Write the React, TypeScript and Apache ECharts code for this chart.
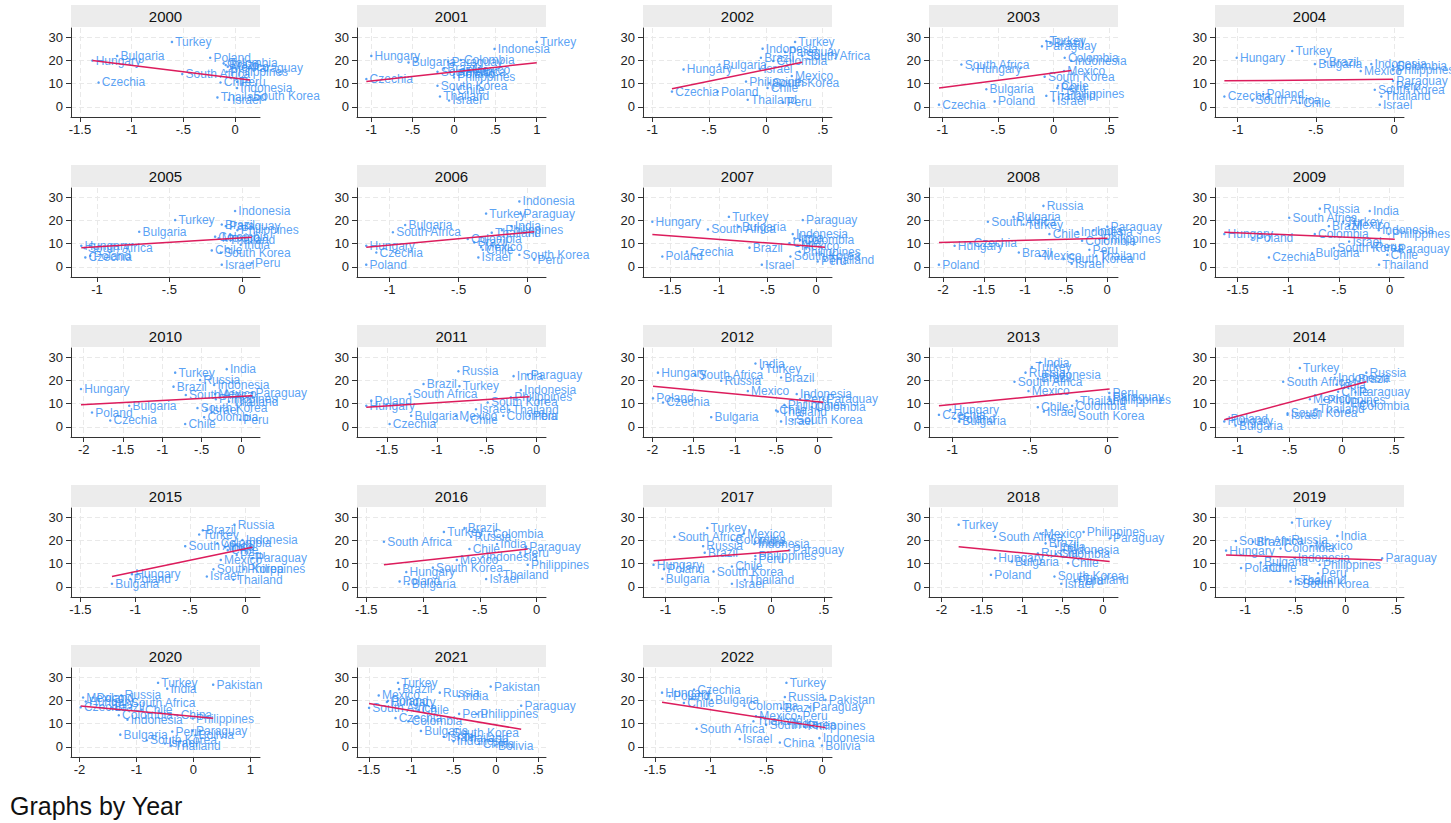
import React, { useEffect, useRef } from "react";
import * as echarts from "echarts";

type Row = [string, number, number];

const years = [2000, 2001, 2002, 2003, 2004, 2005, 2006, 2007, 2008, 2009, 2010, 2011, 2012, 2013, 2014, 2015, 2016, 2017, 2018, 2019, 2020, 2021, 2022];

const d2000: Row[] = [["Hungary",-1.38,19.9],["Bulgaria",-1.14,21.9],["Czechia",-1.32,10.5],["Turkey",-0.61,27.9],["South Africa",-0.51,14.1],["Poland",-0.24,21.1],["Colombia",-0.11,18.7],["Brazil",-0.09,18.0],["Mexico",-0.07,17.3],["Paraguay",0.13,16.5],["Philippines",-0.08,15.1],["Chile",-0.14,10.5],["Peru",0.02,10.8],["Indonesia",0.02,8.1],["Thailand",-0.17,4.1],["Israel",-0.06,3.1],["South Korea",0.145,4.5]];
const d2001: Row[] = [["Hungary",-1.0,21.9],["Czechia",-1.06,12.0],["Bulgaria",-0.55,19.1],["Paraguay",-0.07,19.4],["Colombia",0.08,20.1],["South Africa",-0.2,15.1],["Brazil",-0.12,16.5],["Mexico",0.18,16.0],["Peru",0.1,15.0],["Poland",0.0,14.0],["Philippines",0.0,12.7],["Indonesia",0.49,24.9],["Turkey",1.0,27.9],["South Korea",-0.2,9.1],["Chile",0.0,7.4],["Thailand",-0.17,4.5],["Israel",-0.06,2.8]];
const d2002: Row[] = [["Hungary",-0.725,16.1],["Czechia",-0.827,6.6],["Poland",-0.424,6.6],["Bulgaria",-0.409,18.2],["Israel",-0.053,16.3],["Brazil",-0.044,21.1],["Indonesia",-0.029,25.0],["Turkey",0.257,27.9],["Paraguay",0.17,23.6],["South Africa",0.32,21.8],["Colombia",0.064,19.7],["Mexico",0.228,13.3],["Philippines",-0.175,10.9],["South Korea",0.03,10.2],["Chile",0.015,8.1],["Thailand",-0.16,3.1],["Peru",0.152,2.0]];
const d2003: Row[] = [["Czechia",-1.03,1.0],["South Africa",-0.829,18.2],["Hungary",-0.725,16.1],["Bulgaria",-0.605,7.6],["Poland",-0.53,2.4],["Turkey",-0.066,28.3],["Brazil",-0.03,27.4],["Paraguay",-0.105,26.0],["Colombia",0.099,21.1],["Indonesia",0.159,19.8],["Mexico",0.093,15.4],["South Korea",-0.081,13.0],["Chile",0.039,9.1],["Peru",0.033,8.1],["Thailand",-0.066,4.8],["Philippines",0.084,5.5],["Israel",0.0,2.7]];
const d2004: Row[] = [["Hungary",-1.006,21.1],["Czechia",-1.085,4.5],["Turkey",-0.651,24.0],["Brazil",-0.438,19.4],["Bulgaria",-0.506,18.4],["Poland",-0.836,5.5],["South Africa",-0.906,2.8],["Chile",-0.602,1.7],["Indonesia",-0.145,18.4],["Mexico",-0.213,15.4],["Colombia",-0.006,17.5],["Philippines",-0.006,15.8],["Paraguay",-0.006,11.2],["Peru",-0.01,8.8],["South Korea",-0.123,7.4],["Thailand",-0.081,4.5],["Israel",-0.091,1.0]];
const d2005: Row[] = [["Hungary",-1.108,9.1],["South Africa",-1.085,8.1],["Poland",-1.046,4.8],["Czechia",-1.08,4.1],["Bulgaria",-0.708,15.1],["Turkey",-0.46,20.1],["Indonesia",-0.046,24.0],["Brazil",-0.138,18.2],["Paraguay",-0.11,17.5],["Philippines",-0.03,15.8],["Colombia",-0.184,13.0],["Mexico",-0.16,12.3],["Thailand",-0.11,11.6],["India",-0.007,9.5],["Chile",-0.207,7.1],["South Korea",-0.145,6.2],["Israel",-0.138,1.0],["Peru",0.069,1.7]];
const d2006: Row[] = [["Hungary",-1.169,9.1],["Czechia",-1.096,6.2],["Poland",-1.169,1.0],["Bulgaria",-0.887,18.0],["South Africa",-0.976,14.9],["Turkey",-0.301,22.9],["Indonesia",-0.06,28.1],["Paraguay",-0.053,22.9],["India",-0.116,17.5],["Philippines",-0.186,15.8],["Thailand",-0.26,14.7],["Colombia",-0.434,12.0],["Brazil",-0.386,10.5],["Mexico",-0.337,8.5],["Chile",-0.325,7.4],["Israel",-0.357,4.1],["South Korea",-0.06,5.2],["Peru",0.048,3.1]];
const d2007: Row[] = [["Hungary",-1.685,19.4],["Poland",-1.582,4.5],["Czechia",-1.329,6.6],["Turkey",-0.897,21.5],["Bulgaria",-0.795,17.3],["South Africa",-1.113,16.1],["Brazil",-0.685,8.3],["Israel",-0.558,1.0],["Paraguay",-0.137,20.1],["Indonesia",-0.24,14.1],["India",-0.223,12.3],["Colombia",-0.164,11.6],["Chile",-0.274,10.2],["Mexico",-0.188,9.1],["Philippines",-0.171,6.6],["South Korea",-0.264,4.5],["Thailand",0.092,3.1],["Peru",0.017,2.4]];
const d2008: Row[] = [["Poland",-2.049,1.0],["Hungary",-1.858,9.1],["Czechia",-1.667,10.2],["South Africa",-1.452,19.4],["Bulgaria",-1.14,21.5],["Turkey",-1.018,18.2],["Russia",-0.775,26.2],["Chile",-0.702,14.1],["Brazil",-1.075,6.2],["Mexico",-0.815,4.8],["South Korea",-0.531,3.4],["Israel",-0.43,1.4],["Colombia",-0.304,11.3],["Indonesia",-0.36,15.0],["India",-0.166,15.6],["Paraguay",0.004,17.3],["Philippines",-0.093,12.0],["Peru",-0.215,7.4],["Thailand",-0.13,4.8]];
const d2009: Row[] = [["Hungary",-1.631,14.1],["Poland",-1.352,12.3],["Czechia",-1.191,4.1],["South Africa",-0.991,21.1],["Russia",-0.689,25.0],["Turkey",-0.46,19.4],["Brazil",-0.6,17.5],["Mexico",-0.404,17.8],["India",-0.197,24.0],["Colombia",-0.739,14.1],["Indonesia",-0.108,15.8],["Philippines",-0.01,14.1],["Israel",-0.4,10.9],["South Korea",-0.55,8.1],["Peru",-0.174,8.5],["Paraguay",0.05,7.6],["Bulgaria",-0.765,5.9],["Chile",-0.023,5.2],["Thailand",-0.105,1.0]];
const d2010: Row[] = [["Hungary",-2.034,16.3],["Poland",-1.894,6.2],["Czechia",-1.662,2.8],["Bulgaria",-1.421,9.1],["Turkey",-0.837,23.3],["Brazil",-0.858,17.3],["Russia",-0.52,20.1],["India",-0.182,24.8],["Indonesia",-0.342,18.0],["South Africa",-0.702,13.7],["Mexico",-0.33,14.1],["Paraguay",0.144,14.7],["Philippines",-0.32,11.9],["Thailand",-0.152,10.9],["South Korea",-0.554,8.1],["Israel",-0.44,7.4],["Colombia",-0.469,4.2],["Chile",-0.71,1.3],["Peru",-0.013,3.1]];
const d2011: Row[] = [["Poland",-1.657,11.3],["Hungary",-1.707,9.1],["Czechia",-1.473,1.3],["Bulgaria",-1.257,4.8],["South Africa",-1.273,14.1],["Brazil",-1.133,18.4],["Turkey",-0.773,17.5],["Russia",-0.783,23.9],["Mexico",-0.807,4.8],["Chile",-0.697,2.8],["Israel",-0.607,7.6],["South Korea",-0.49,10.5],["Thailand",-0.273,7.4],["Colombia",-0.333,4.8],["Peru",-0.07,4.8],["India",-0.23,21.8],["Paraguay",-0.09,22.5],["Indonesia",-0.157,15.8],["Philippines",-0.257,12.7]];
const d2012: Row[] = [["Hungary",-1.932,23.3],["Poland",-1.992,12.3],["Czechia",-1.871,10.5],["South Africa",-1.481,22.2],["Russia",-1.167,19.8],["India",-0.753,27.2],["Turkey",-0.676,25.0],["Brazil",-0.443,21.2],["Mexico",-0.845,15.4],["Indonesia",-0.254,14.1],["Peru",-0.213,12.0],["Paraguay",0.068,11.9],["Philippines",-0.402,9.5],["Colombia",-0.072,8.5],["Chile",-0.503,7.1],["Thailand",-0.483,6.6],["Bulgaria",-1.288,4.2],["Israel",-0.443,2.4],["South Korea",-0.302,3.1]];
const d2013: Row[] = [["Czechia",-1.086,5.2],["Hungary",-1.013,7.4],["Poland",-0.985,3.5],["Bulgaria",-0.957,2.4],["South Africa",-0.6,19.4],["Mexico",-0.51,15.4],["Russia",-0.529,23.3],["Turkey",-0.488,25.7],["India",-0.435,27.6],["Brazil",-0.45,20.8],["Indonesia",-0.4,22.2],["Chile",-0.45,8.5],["Israel",-0.411,6.6],["Colombia",-0.229,9.1],["Thailand",-0.2,11.2],["South Korea",-0.214,4.5],["Peru",0.01,14.6],["Paraguay",0.01,12.9],["Philippines",0.012,11.6]];
const d2014: Row[] = [["Poland",-1.099,3.4],["Hungary",-1.128,2.4],["Bulgaria",-1.019,0.6],["Turkey",-0.403,25.3],["South Africa",-0.563,19.4],["Indonesia",-0.068,21.1],["Brazil",0.124,20.4],["Russia",0.235,23.3],["India",-0.052,18.2],["Chile",-0.036,15.1],["Paraguay",0.13,14.9],["Mexico",-0.307,11.9],["Philippines",-0.17,11.6],["Colombia",0.13,8.8],["Peru",0.06,10.2],["Thailand",-0.253,7.6],["South Korea",-0.521,5.9],["Israel",-0.521,5.2]];
const d2015: Row[] = [["Bulgaria",-1.212,1.4],["Hungary",-1.03,5.5],["Poland",-1.045,3.4],["South Africa",-0.545,17.5],["Turkey",-0.418,22.5],["Brazil",-0.385,24.3],["Russia",-0.097,26.7],["Colombia",-0.252,18.7],["Indonesia",-0.024,20.1],["Chile",-0.158,15.8],["India",-0.18,17.0],["Peru",-0.076,13.7],["Mexico",-0.221,11.6],["Paraguay",0.067,12.3],["Philippines",-0.009,7.6],["South Korea",-0.288,7.6],["Israel",-0.348,4.5],["Thailand",-0.106,3.1]];
const d2016: Row[] = [["South Africa",-1.345,19.4],["Poland",-1.207,2.4],["Bulgaria",-1.128,1.3],["Hungary",-1.148,6.4],["South Korea",-0.914,8.3],["Mexico",-0.703,11.6],["Turkey",-0.817,23.6],["Brazil",-0.636,25.3],["Russia",-0.577,21.5],["Colombia",-0.416,22.6],["Chile",-0.592,16.3],["India",-0.349,18.4],["Paraguay",-0.094,17.3],["Peru",-0.144,14.7],["Indonesia",-0.475,13.0],["Philippines",-0.079,9.5],["Thailand",-0.328,5.2],["Israel",-0.445,3.4]];
const d2017: Row[] = [["Hungary",-1.114,9.5],["Poland",-1.015,7.6],["Bulgaria",-1.03,3.5],["South Africa",-0.916,21.5],["Turkey",-0.604,25.3],["Russia",-0.644,17.5],["Brazil",-0.629,14.7],["Mexico",-0.257,22.9],["Colombia",-0.371,20.1],["India",-0.149,19.4],["Indonesia",-0.158,18.4],["Philippines",-0.149,13.3],["Peru",-0.149,11.9],["Paraguay",0.173,15.8],["Chile",-0.371,8.8],["South Korea",-0.545,6.6],["Thailand",-0.248,3.1],["Israel",-0.371,1.4]];
const d2018: Row[] = [["Turkey",-1.787,26.7],["South Africa",-1.335,21.5],["Mexico",-0.774,22.9],["Brazil",-0.71,18.7],["India",-0.58,17.3],["Indonesia",-0.484,15.8],["Russia",-0.806,14.4],["Colombia",-0.58,14.1],["Hungary",-1.335,12.3],["Bulgaria",-1.129,10.9],["Chile",-0.432,10.2],["Philippines",-0.239,23.6],["Paraguay",0.084,20.8],["Poland",-1.387,5.2],["South Korea",-0.6,4.5],["Thailand",-0.29,3.1],["Israel",-0.516,1.4],["Peru",-0.35,2.6]];
const d2019: Row[] = [["Hungary",-1.19,15.6],["South Africa",-1.093,19.7],["Brazil",-0.922,19.4],["Russia",-0.575,20.1],["Mexico",-0.342,17.5],["Colombia",-0.648,16.5],["Turkey",-0.534,27.6],["India",-0.083,21.9],["Indonesia",-0.508,12.3],["Bulgaria",-0.845,10.5],["Philippines",-0.259,9.5],["Poland",-1.041,8.1],["Chile",-0.793,8.1],["Peru",-0.275,5.9],["Israel",-0.549,2.4],["Thailand",-0.482,3.1],["South Korea",-0.466,1.4],["Paraguay",0.363,12.3]];
const d2020: Row[] = [["Mexico",-1.937,21.2],["Poland",-1.76,21.2],["Russia",-1.266,22.1],["Hungary",-1.89,19.5],["Czechia",-1.98,17.0],["South Africa",-1.158,18.9],["Turkey",-0.621,27.5],["India",-0.46,25.0],["Pakistan",0.346,26.7],["Brazil",-1.445,17.0],["Chile",-0.908,16.0],["Colombia",-1.31,13.6],["Indonesia",-1.158,11.7],["China",-0.281,13.5],["Philippines",-0.013,12.2],["Peru",-0.371,6.6],["Paraguay",-0.013,6.9],["Bolivia",0.032,5.0],["Bulgaria",-1.284,5.3],["South Korea",-0.818,2.9],["Thailand",-0.389,0.6],["Israel",-0.5,1.5]];
const d2021: Row[] = [["South Africa",-1.5,16.8],["Mexico",-1.386,22.1],["Turkey",-1.157,27.5],["Brazil",-1.145,24.8],["Poland",-1.277,19.8],["Hungary",-1.289,19.3],["Chile",-0.916,15.8],["Russia",-0.663,23.3],["India",-0.434,21.7],["Pakistan",-0.06,25.9],["Paraguay",0.301,17.7],["Peru",-0.434,14.2],["Philippines",-0.223,14.1],["Czechia",-1.187,12.4],["Colombia",-1.036,11.0],["Bulgaria",-0.886,6.9],["South Korea",-0.554,5.9],["Israel",-0.614,4.4],["Thailand",-0.434,3.8],["China",-0.193,1.3],["Bolivia",-0.012,0.6],["Indonesia",-0.5,2.5]];
const d2022: Row[] = [["Hungary",-1.436,23.3],["Poland",-1.368,21.8],["Czechia",-1.149,24.6],["Chile",-1.24,18.9],["Bulgaria",-0.99,20.2],["Colombia",-0.698,17.7],["South Africa",-1.126,7.8],["Israel",-0.739,3.4],["Turkey",-0.32,27.5],["Russia",-0.334,21.4],["Pakistan",0.031,20.2],["Brazil",-0.366,16.6],["Paraguay",-0.115,17.0],["Mexico",-0.593,13.2],["Peru",-0.206,13.2],["Thailand",-0.616,11.0],["South Korea",-0.502,9.5],["Philippines",-0.161,8.8],["India",-0.3,10.0],["China",-0.379,1.9],["Indonesia",-0.024,3.8],["Bolivia",-0.001,0.6]];

const panels: Row[][] = [d2000, d2001, d2002, d2003, d2004, d2005, d2006, d2007, d2008, d2009, d2010, d2011, d2012, d2013, d2014, d2015, d2016, d2017, d2018, d2019, d2020, d2021, d2022];

// fitted line values at the smallest and largest x of each year
const fitStart = [19.9, 10.9, 7.8, 8.1, 11.2, 8.3, 8.5, 13.9, 10.5, 14.9, 9.5, 8.5, 17.5, 9.1, 3.1, 4.5, 9.5, 11.2, 17.3, 13.7, 17.6, 18.6, 19.2];
const fitEnd = [11.6, 19.0, 19.2, 15.6, 11.9, 12.7, 15.1, 8.5, 12.3, 11.9, 13.4, 13.0, 10.6, 16.3, 19.4, 17.0, 16.3, 15.6, 10.9, 11.6, 12.3, 7.6, 8.3];

const xMin = [-1.587, -1.173, -1.082, -1.12, -1.145, -1.179, -1.236, -1.781, -2.17, -1.723, -2.161, -1.8, -2.113, -1.15, -1.217, -1.585, -1.582, -1.214, -2.154, -1.3, -2.149, -1.643, -1.607];
const xMax = [0.242, 1.112, 0.582, 0.578, 0.064, 0.126, 0.133, 0.164, 0.134, 0.141, 0.241, 0.095, 0.173, 0.066, 0.596, 0.136, 0.082, 0.578, 0.187, 0.58, 1.168, 0.595, 0.089];

const T15 = [-1.5, -1, -0.5, 0];
const T1 = [-1, -0.5, 0];
const T1h = [-1, -0.5, 0, 0.5];
const T2 = [-2, -1.5, -1, -0.5, 0];
const xTicks: number[][] = [T15, [-1, -0.5, 0, 0.5, 1], T1h, T1h, T1, T1, T1, T15, T2, T15, T2, T15, T2, T1, T1h, T15, T15, T1h, T2, T1h, [-2, -1, 0, 1], [-1.5, -1, -0.5, 0, 0.5], T15];

const yTicks = [0, 10, 20, 30];
const yMin = -4.29;
const yMax = 33.86;

const FONT = "'Liberation Sans', Arial, Helvetica, sans-serif";
const LABEL_COLOR = "#2f8af2";
const FIT_COLOR = "#dc1c5c";
const AXIS_COLOR = "#333333";

function fmt(v: number): string {
  if (Math.abs(v) < 1e-9) return "0";
  const s = String(v);
  return s.replace(/^(-?)0\./, "$1.");
}

const COL0 = 71;
const COLSTEP = 286;
const ROWSTEP = 160;
const PW = 189;

export default function App() {
  const ref = useRef<HTMLDivElement>(null);
  useEffect(() => {
    document.body.style.margin = "0";
    if (!ref.current) return;
    const chart = echarts.init(ref.current, undefined, { renderer: "svg" });
    const grids: any[] = [];
    const xAxes: any[] = [];
    const yAxes: any[] = [];
    const series: any[] = [];
    const graphics: any[] = [];
    panels.forEach((rows, i) => {
      const c = i % 5;
      const r = Math.floor(i / 5);
      const left = COL0 + COLSTEP * c;
      const top = 28 + ROWSTEP * r;
      grids.push({ left, top, width: PW, height: 89, containLabel: false });
      xAxes.push({
        type: "value", gridIndex: i, min: xMin[i], max: xMax[i],
        axisLine: { show: true, onZero: false, lineStyle: { color: AXIS_COLOR, width: 1 } },
        axisTick: { show: true, length: 5, customValues: xTicks[i], lineStyle: { color: AXIS_COLOR } },
        axisLabel: { customValues: xTicks[i], formatter: (v: number) => fmt(v), fontSize: 13, color: "#222", margin: 6, fontFamily: FONT },
        splitLine: { show: true, lineStyle: { color: "#e9e9e9", type: [5, 3], width: 1 } },
      });
      yAxes.push({
        type: "value", gridIndex: i, min: yMin, max: yMax,
        axisLine: { show: true, onZero: false, lineStyle: { color: AXIS_COLOR, width: 1 } },
        axisTick: { show: true, length: 5, customValues: yTicks, lineStyle: { color: AXIS_COLOR } },
        axisLabel: { customValues: yTicks, fontSize: 13, color: "#222", margin: 8, fontFamily: FONT },
        splitLine: { show: true, lineStyle: { color: "#e9e9e9", type: [5, 3], width: 1 } },
      });
      series.push({
        type: "scatter", xAxisIndex: i, yAxisIndex: i, symbolSize: 2.5, silent: true,
        itemStyle: { color: LABEL_COLOR },
        data: rows.map((d) => ({ name: d[0], value: [d[1], d[2]] })),
        label: { show: true, position: "right", distance: 2, formatter: "{b}", color: LABEL_COLOR, fontSize: 12, fontFamily: FONT },
        z: 2,
      });
      const xs = rows.map((d) => d[1]);
      const lo = Math.min(...xs);
      const hi = Math.max(...xs);
      series.push({
        type: "line", xAxisIndex: i, yAxisIndex: i, symbol: "none", silent: true,
        lineStyle: { color: FIT_COLOR, width: 1.5 },
        data: [[lo, fitStart[i]], [hi, fitEnd[i]]],
        z: 5,
      });
      graphics.push({ type: "rect", shape: { x: left, y: 5 + ROWSTEP * r, width: PW, height: 22 }, style: { fill: "#ececec" }, silent: true });
      graphics.push({
        type: "text", x: left + PW / 2, y: 16 + ROWSTEP * r, silent: true,
        style: { text: String(years[i]), fill: "#111", font: "15px " + FONT, textAlign: "center", textVerticalAlign: "middle", align: "center", verticalAlign: "middle" },
      });
    });
    graphics.push({
      type: "text", x: 10, y: 806, silent: true,
      style: { text: "Graphs by Year", fill: "#111", font: "25px " + FONT, textAlign: "left", textVerticalAlign: "middle", align: "left", verticalAlign: "middle" },
    });
    chart.setOption({
      animation: false,
      backgroundColor: "#ffffff",
      grid: grids,
      xAxis: xAxes,
      yAxis: yAxes,
      series,
      graphic: graphics,
    });
    return () => chart.dispose();
  }, []);
  return <div ref={ref} style={{ width: 1451, height: 823 }} />;
}
